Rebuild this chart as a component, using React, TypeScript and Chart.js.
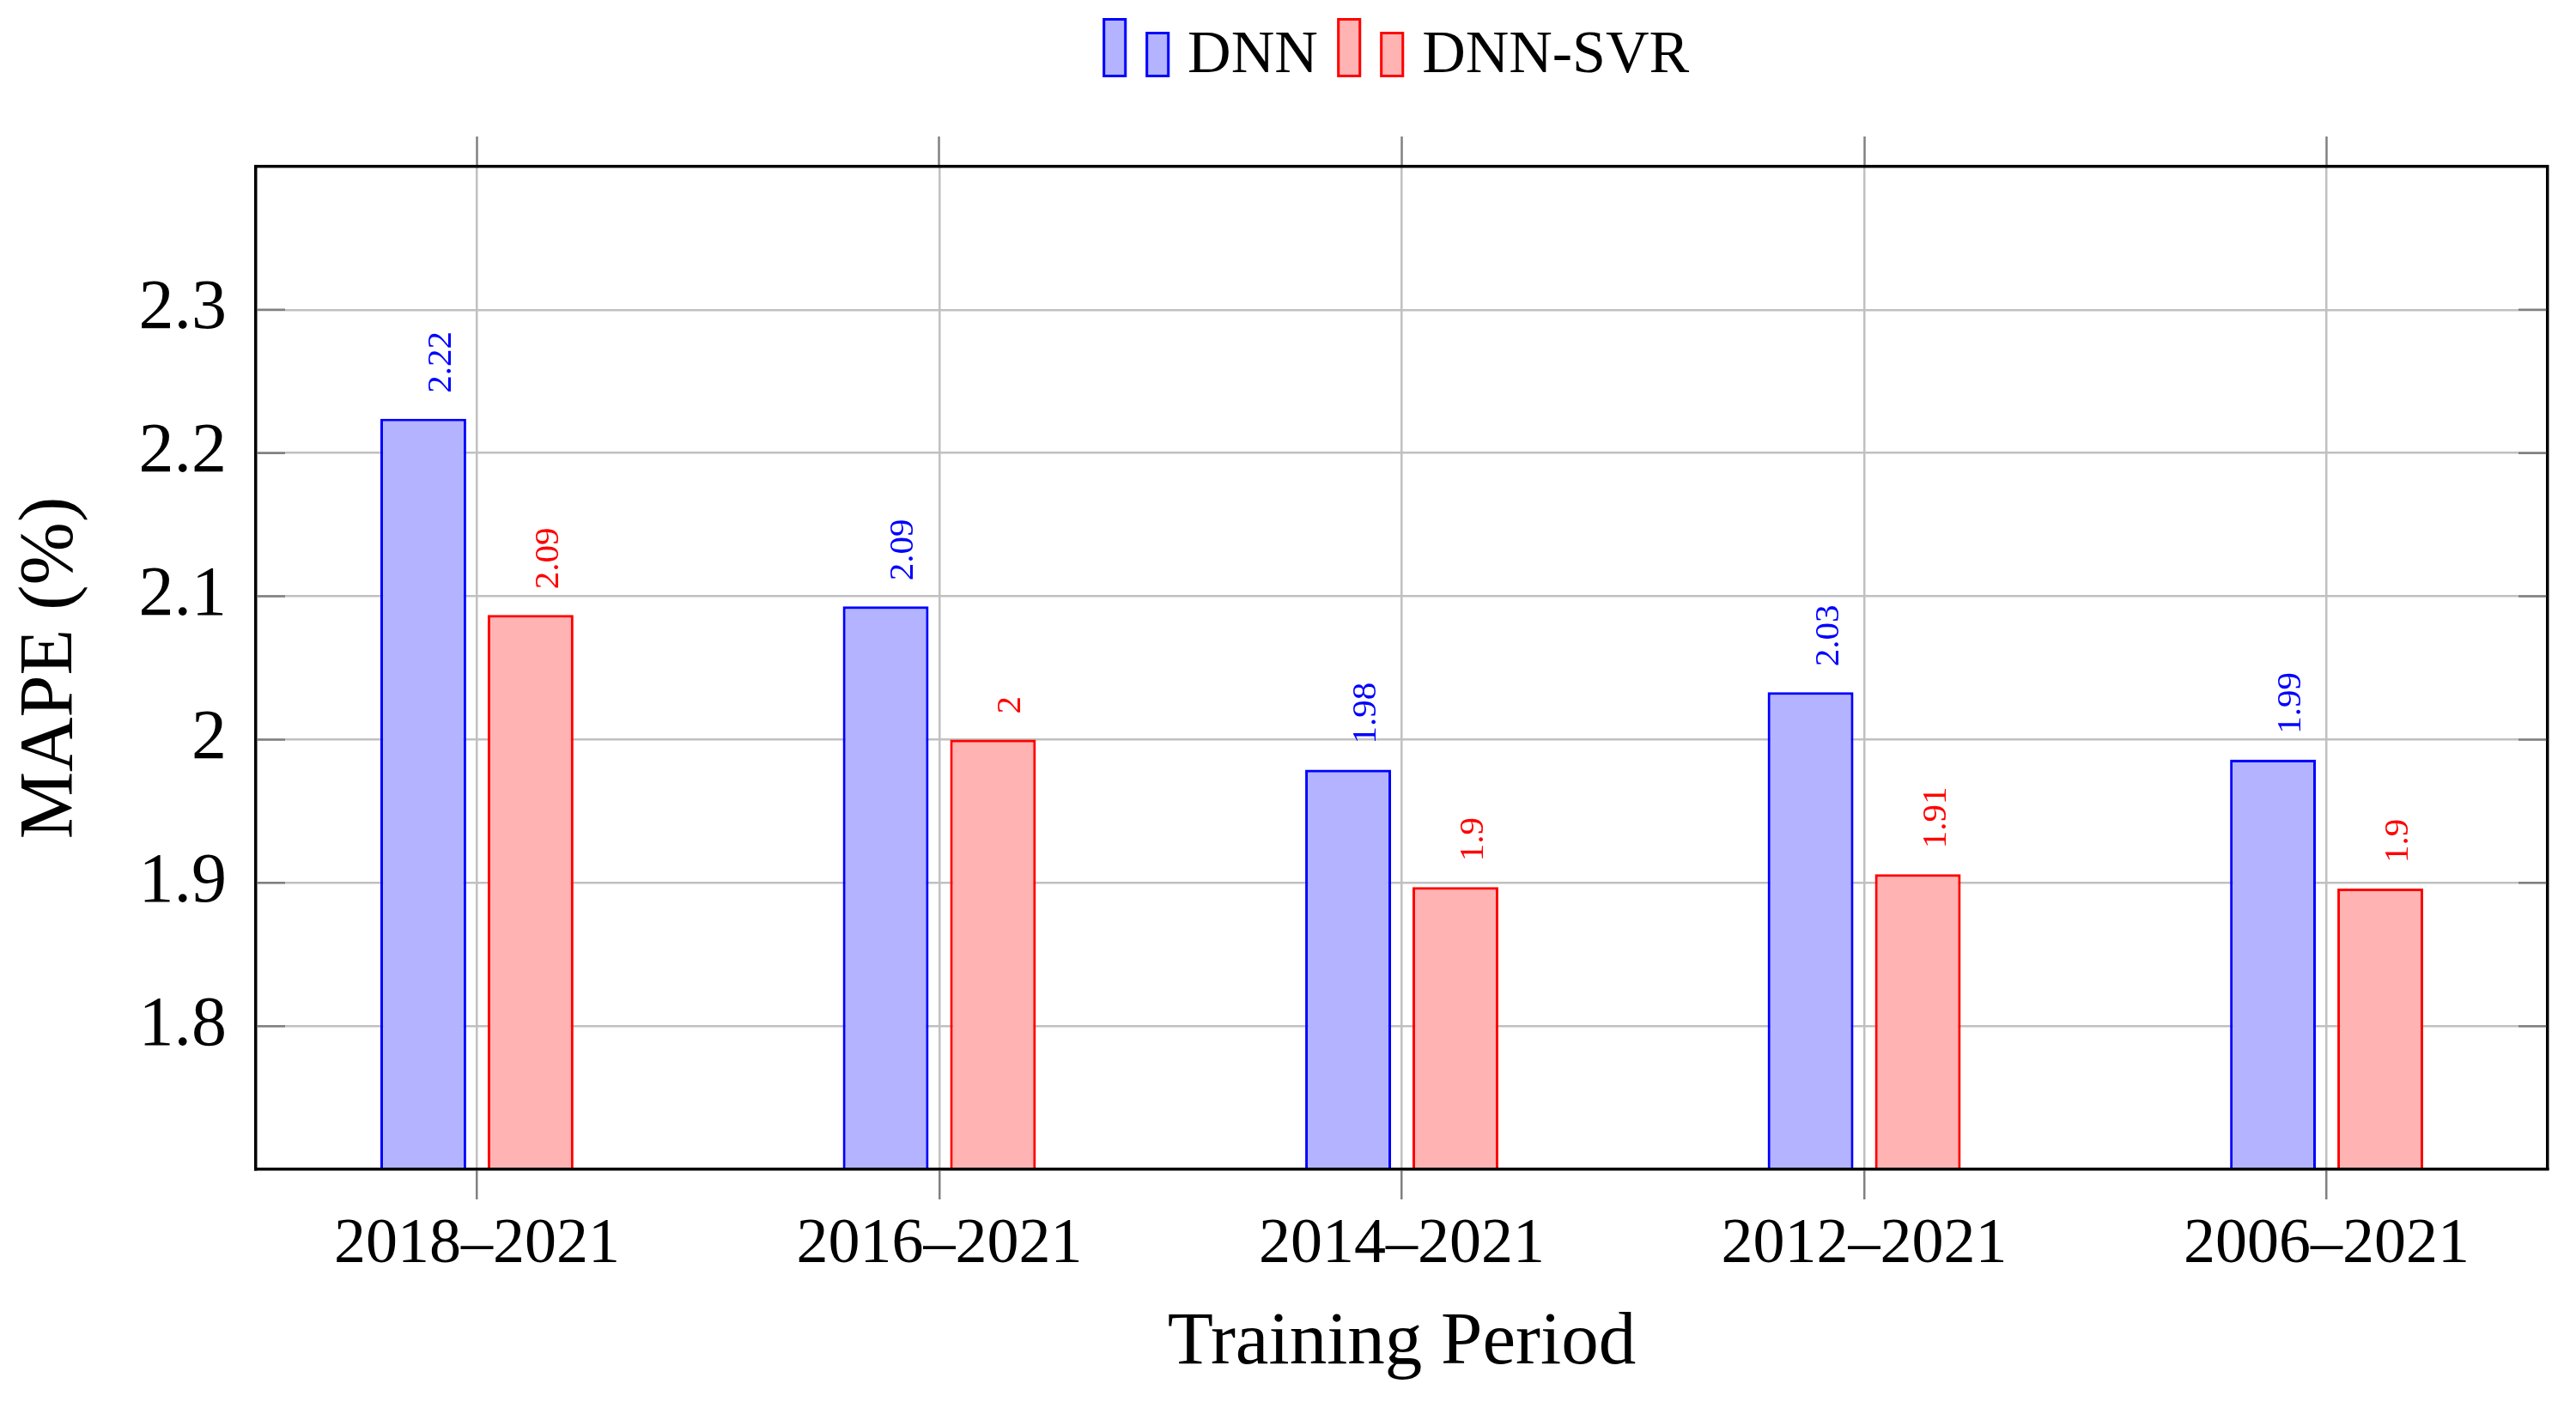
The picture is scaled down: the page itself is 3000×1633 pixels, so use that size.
import React, { useEffect, useRef } from "react";
import { Chart, registerables } from "chart.js";

Chart.register(...registerables);

// training windows on the x axis
const periods = ["2018–2021", "2016–2021", "2014–2021", "2012–2021", "2006–2021"];
// MAPE (%) per model
const dnnMape = [2.224, 2.093, 1.979, 2.033, 1.986];
const dnnSvrMape = [2.087, 2.0, 1.897, 1.906, 1.896];
// labelled y ticks
const yTicks = [1.8, 1.9, 2.0, 2.1, 2.2, 2.3];

const FONT = "'Liberation Serif', 'Times New Roman', serif";
const BLUE = "#0000ff";
const BLUE_FILL = "rgb(179,179,255)";
const RED = "#ff0000";
const RED_FILL = "rgb(255,179,179)";
const GRID = "#c0c0c0";
const TICK = "#808080";

const X_MIN = -0.478;
const X_MAX = periods.length - 1 + 0.478;

// pgfplots-style ybar legend image: two bars of different height
function makeLegendIcon(fill: string, stroke: string) {
  const c = document.createElement("canvas");
  c.width = 80;
  c.height = 90;
  const ctx = c.getContext("2d")!;
  const bars = [
    [1.2, 0, 28, 69],
    [51.2, 16, 28, 53],
  ];
  ctx.lineWidth = 3;
  bars.forEach(([x, y, w, h]) => {
    ctx.fillStyle = fill;
    ctx.fillRect(x, y, w, h);
    ctx.strokeStyle = stroke;
    ctx.strokeRect(x + 1.5, y + 1.5, w - 3, h - 3);
  });
  return c;
}

const integerTicks = (scale: any) => {
  scale.ticks = periods.map((_, i) => ({ value: i }));
};

const fmt = (v: number, d: number) => String(Number(v.toFixed(d)));

const valueLabels = {
  id: "valueLabels",
  afterDatasetsDraw(chart: any) {
    const { ctx } = chart;
    chart.data.datasets.forEach((ds: any, di: number) => {
      const meta = chart.getDatasetMeta(di);
      meta.data.forEach((bar: any, i: number) => {
        const v = ds.data[i].y;
        ctx.save();
        ctx.translate(bar.x + 32, bar.y - 30);
        ctx.rotate(-Math.PI / 2);
        ctx.font = `41px ${FONT}`;
        ctx.fillStyle = ds.borderColor;
        ctx.textAlign = "left";
        ctx.textBaseline = "alphabetic";
        ctx.fillText(fmt(v, 2), 0, 0);
        ctx.restore();
      });
    });
  },
};

// small tick marks pointing into the plot from the left and right frame
const innerYTicks = {
  id: "innerYTicks",
  afterDraw(chart: any) {
    const { ctx, chartArea } = chart;
    const y = chart.scales.y;
    ctx.save();
    ctx.strokeStyle = TICK;
    ctx.lineWidth = 2.5;
    y.ticks.forEach((t: any) => {
      const py = y.getPixelForValue(t.value);
      ctx.beginPath();
      ctx.moveTo(chartArea.left + 1.75, py);
      ctx.lineTo(chartArea.left + 34, py);
      ctx.moveTo(chartArea.right - 34, py);
      ctx.lineTo(chartArea.right - 1.75, py);
      ctx.stroke();
    });
    ctx.restore();
  },
};

const App: React.FC = () => {
  const canvasRef = useRef<HTMLCanvasElement>(null);

  useEffect(() => {
    if (!canvasRef.current) return;
    const icons = [makeLegendIcon(BLUE_FILL, BLUE), makeLegendIcon(RED_FILL, RED)];

    const chart = new Chart(canvasRef.current, {
      type: "bar",
      data: {
        datasets: [
          {
            label: "DNN",
            data: dnnMape.map((v, i) => ({ x: i, y: v })),
            backgroundColor: BLUE_FILL,
            borderColor: BLUE,
            borderWidth: 3.2,
            borderSkipped: "start",
            xAxisID: "x",
            yAxisID: "y",
          },
          {
            label: "DNN-SVR",
            data: dnnSvrMape.map((v, i) => ({ x: i, y: v })),
            backgroundColor: RED_FILL,
            borderColor: RED,
            borderWidth: 3.2,
            borderSkipped: "start",
            xAxisID: "x",
            yAxisID: "y",
          },
        ],
      },
      options: {
        animation: false,
        responsive: true,
        maintainAspectRatio: false,
        events: [],
        barPercentage: 0.8,
        categoryPercentage: 0.464,
        layout: { padding: { top: -5, left: 0, right: 0, bottom: 0 } },
        plugins: {
          tooltip: { enabled: false },
          legend: {
            position: "top",
            fullSize: false,
            labels: {
              usePointStyle: true,
              pointStyleWidth: 50.4,
              padding: 36,
              color: "#000",
              font: { family: FONT, size: 70 },
              generateLabels: (c: any) =>
                Chart.defaults.plugins.legend.labels
                  .generateLabels(c)
                  .map((item: any) => ({ ...item, pointStyle: icons[item.datasetIndex] })),
            },
          },
        },
        scales: {
          x: {
            type: "linear",
            position: "bottom",
            offset: false,
            min: X_MIN,
            max: X_MAX,
            afterBuildTicks: integerTicks,
            afterFit: (s: any) => {
              s.height = 271;
            },
            ticks: {
              callback: (v: any) => periods[v],
              color: "#000",
              font: { family: FONT, size: 74 },
              padding: 9,
              maxRotation: 0,
              autoSkip: false,
            },
            grid: {
              offset: false,
              color: GRID,
              lineWidth: 2.5,
              tickColor: TICK,
              tickLength: 35,
              tickWidth: 2.5,
            },
            border: { color: "#000", width: 3.5, z: 1 },
            title: {
              display: true,
              text: "Training Period",
              color: "#000",
              font: { family: FONT, size: 87 },
              padding: { top: 16, bottom: 16 },
            },
          },
          x2: {
            type: "linear",
            position: "top",
            offset: false,
            min: X_MIN,
            max: X_MAX,
            afterBuildTicks: integerTicks,
            afterFit: (s: any) => {
              s.height = 83;
            },
            ticks: { display: false },
            grid: {
              offset: false,
              drawOnChartArea: false,
              tickColor: TICK,
              tickLength: 35,
              tickWidth: 2.5,
            },
            border: { color: "#000", width: 3.5, z: 1 },
          },
          y: {
            type: "linear",
            position: "left",
            min: 1.7,
            max: 2.4,
            afterBuildTicks: (s: any) => {
              s.ticks = yTicks.map((v) => ({ value: v }));
            },
            afterFit: (s: any) => {
              s.width = 298;
            },
            ticks: {
              callback: (v: any) => fmt(Number(v), 1),
              color: "#000",
              font: { family: FONT, size: 82 },
              padding: 34,
            },
            grid: { color: GRID, lineWidth: 2.5, drawTicks: false },
            border: { color: "#000", width: 3.5 },
            title: {
              display: true,
              text: "MAPE (%)",
              color: "#000",
              font: { family: FONT, size: 88 },
              padding: { top: 7, bottom: 7 },
            },
          },
          y2: {
            type: "linear",
            position: "right",
            min: 1.7,
            max: 2.4,
            afterFit: (s: any) => {
              s.width = 33;
            },
            ticks: { display: false },
            grid: { drawOnChartArea: false, drawTicks: false },
            border: { color: "#000", width: 3.5 },
          },
        },
      } as any,
      plugins: [valueLabels, innerYTicks],
    });

    return () => {
      chart.destroy();
    };
  }, []);

  return (
    <div style={{ position: "absolute", left: 0, top: 0, width: 3000, height: 1633, background: "#fff" }}>
      <canvas ref={canvasRef} />
    </div>
  );
};

export default App;
